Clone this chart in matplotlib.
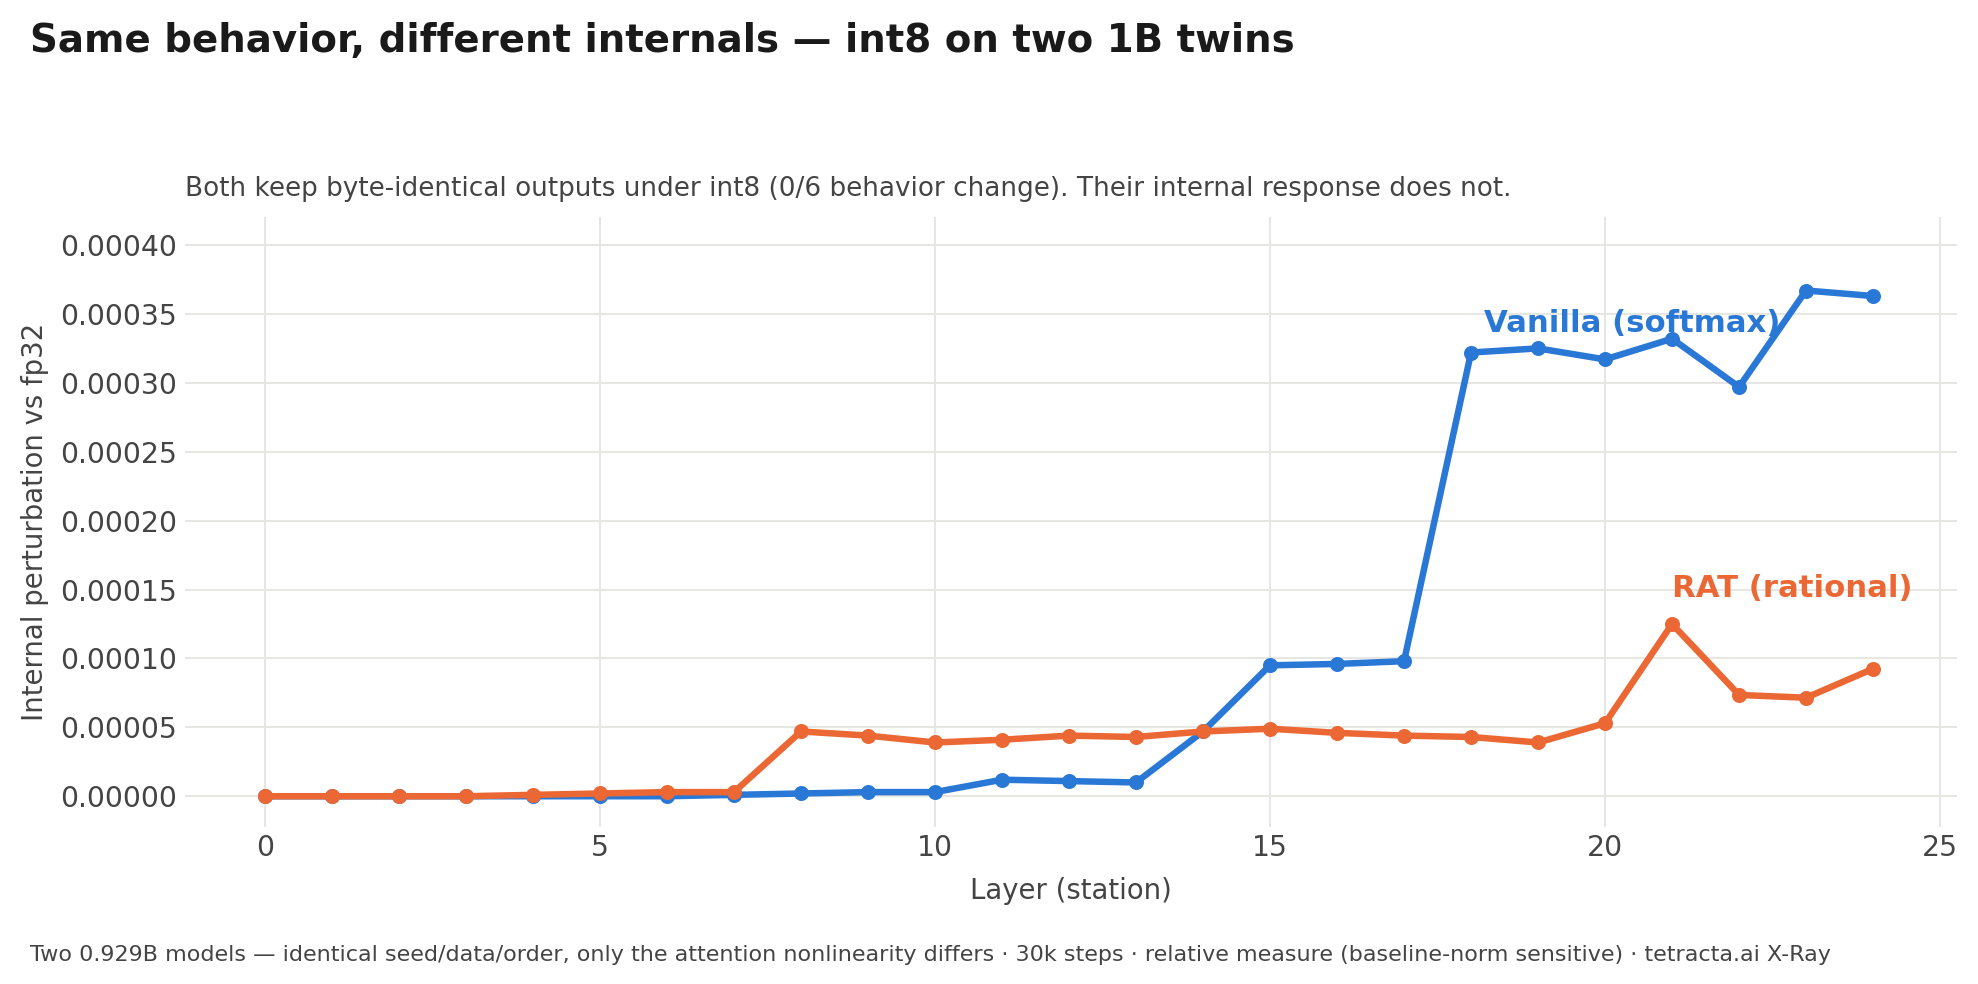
import matplotlib
matplotlib.use("Agg")
import matplotlib.pyplot as plt

layers = list(range(25))
vanilla = [0.0, 0.0, 0.0, 0.0, 0.0, 0.0, 0.0, 0.000001, 0.000002, 0.000003, 0.000003,
           0.000012, 0.000011, 0.000010, 0.000047, 0.000095, 0.000096, 0.000098,
           0.000322, 0.000325, 0.000317, 0.000332, 0.000297, 0.000367, 0.000363]
rat = [0.0, 0.0, 0.0, 0.0, 0.000001, 0.000002, 0.000003, 0.000003, 0.000047, 0.000044,
       0.000039, 0.000041, 0.000044, 0.000043, 0.000047, 0.000049, 0.000046, 0.000044,
       0.000043, 0.000039, 0.000053, 0.000125, 0.0000735, 0.0000715, 0.0000925]
xticks = [0, 5, 10, 15, 20, 25]
yticks = [0.0, 0.00005, 0.0001, 0.00015, 0.0002, 0.00025, 0.0003, 0.00035, 0.0004]

title = "Same behavior, different internals \u2014 int8 on two 1B twins"
subtitle = "Both keep byte-identical outputs under int8 (0/6 behavior change). Their internal response does not."
footer = ("Two 0.929B models \u2014 identical seed/data/order, only the attention nonlinearity differs"
          " \u00b7 30k steps \u00b7 relative measure (baseline-norm sensitive) \u00b7 tetracta.ai X-Ray")

BLUE = "#2A78D6"
ORANGE = "#EB6834"
GRID = "#E6E6E3"
TXT = "#444444"

plt.rcParams['font.family'] = ['DejaVu Sans']
fig = plt.figure(figsize=(1978/180, 984/180), dpi=180)
ax = fig.add_axes([0.0933, 0.160, 0.896, 0.619])

ax.plot(layers, vanilla, color=BLUE, lw=2.6, marker='o', ms=5.0, zorder=3)
ax.plot(layers, rat, color=ORANGE, lw=2.6, marker='o', ms=5.0, zorder=3)

ax.set_xlim(-1.2, 25.25)
ax.set_ylim(-0.000022, 0.00042)
ax.set_xticks(xticks)
ax.set_yticks(yticks)
ax.set_yticklabels([f"{v:.5f}" for v in yticks])
ax.grid(True, color=GRID, lw=0.8, zorder=0)
for s in ax.spines.values():
    s.set_visible(False)
ax.tick_params(length=0, labelsize=11.3, colors=TXT, pad=3)
ax.set_xlabel("Layer (station)", fontsize=11, color=TXT, labelpad=6)
ax.set_ylabel("Internal perturbation vs fp32", fontsize=11, color=TXT, labelpad=4.5)
ax.set_title(subtitle, loc='left', fontsize=10.5, color=TXT, pad=8.5)

ax.text(18.2, 0.000343, "Vanilla (softmax)", color=BLUE, fontsize=12.3, fontweight='bold',
        ha='left', va='center')
ax.text(21.0, 0.000151, "RAT (rational)", color=ORANGE, fontsize=12.3, fontweight='bold',
        ha='left', va='center')

fig.text(0.0153, 0.958, title, fontsize=15.5, fontweight='bold', color="#1A1A1A",
         ha='left', va='center')
fig.text(0.0153, 0.0295, footer, fontsize=8.9, color=TXT, ha='left', va='center')

fig.savefig("out.png", dpi=180)
